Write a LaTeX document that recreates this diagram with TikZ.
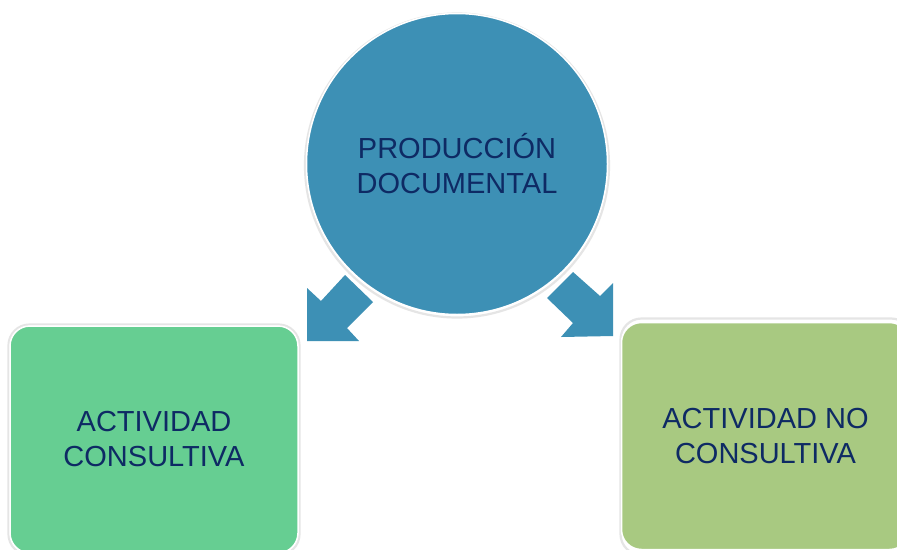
\documentclass[tikz,border=0pt]{standalone}
\usepackage{fontspec}
\setmainfont{Liberation Sans}
\usetikzlibrary{positioning}
\definecolor{prodblue}{RGB}{61,144,181}
\definecolor{consgreen}{RGB}{102,206,146}
\definecolor{noconsgreen}{RGB}{168,201,129}
\definecolor{labelnavy}{RGB}{14,42,100}
\tikzset{
  outline/.style={draw=black!10, line width=2.2pt},
  prodcircle/.style={circle, fill=prodblue, draw=white, line width=1.5pt, minimum size=301pt, inner sep=0pt,
    text=labelnavy, align=center, font=\fontsize{29}{35}\selectfont},
  actbox/.style={rectangle, rounded corners=20pt, draw=white, line width=1.5pt, minimum width=288pt, minimum height=227pt,
    text=labelnavy, align=center, font=\fontsize{29}{35}\selectfont},
  blockarrow/.style={fill=prodblue, draw=none}
}

\begin{document}
\begin{tikzpicture}[x=1pt,y=-1pt]
\useasboundingbox (0,0) rectangle (897,549);
\clip (0,0) rectangle (897,549);
\fill[white] (0,0) rectangle (897,549);
% boxes
\draw[outline, rounded corners=21pt] (8.5,324.5) rectangle (299.5,555);
\node[actbox, fill=consgreen] (cons) at (154,439.5) {ACTIVIDAD\\CONSULTIVA};
\draw[outline, rounded corners=21pt] (620.5,318.5) rectangle (912,555);
\node[actbox, fill=noconsgreen] (nocons) at (765.5,436) {ACTIVIDAD NO\\CONSULTIVA};
% circle
\draw[outline] (457,165.5) circle (152pt);
\node[prodcircle] (prod) at (457,164) {PRODUCCI\'ON\\DOCUMENTAL};
% arrows
\fill[blockarrow] (307,341) -- (307,288) -- (321,301) -- (345,275) -- (373,302) -- (347,328) -- (359,341) -- cycle;
\fill[blockarrow] (613,336) -- (561,337) -- (573,323) -- (547,298) -- (573,272) -- (600,296) -- (613,283) -- cycle;
\end{tikzpicture}
\end{document}
